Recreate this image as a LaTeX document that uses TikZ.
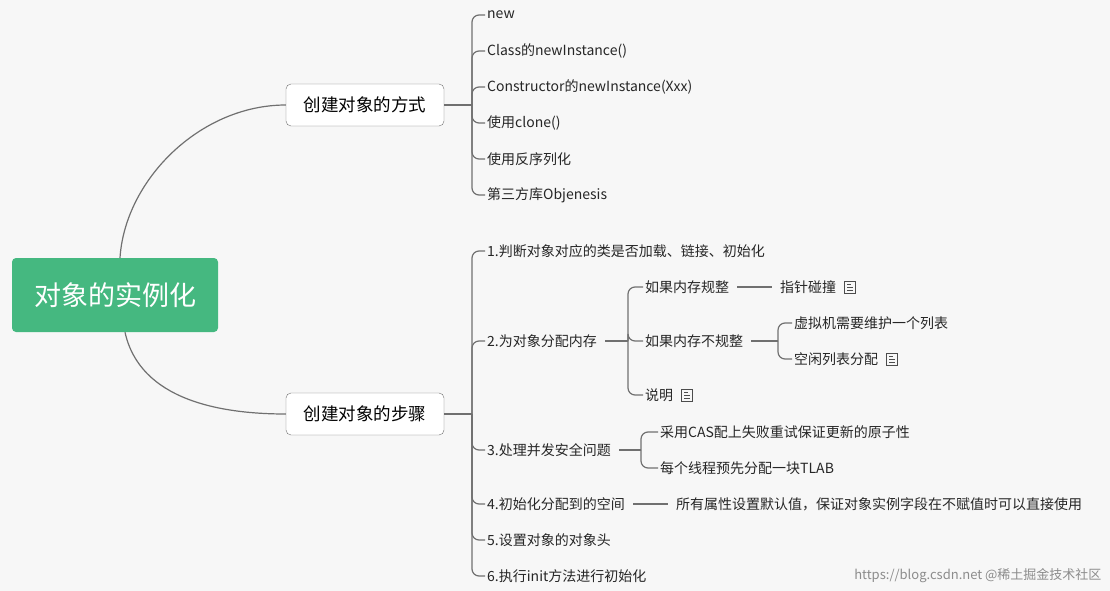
\documentclass[tikz,border=0pt]{standalone}
\usepackage{fontspec}
\setmainfont{Noto Sans CJK SC}
\usepackage{tikz}
\definecolor{rootgreen}{HTML}{45B880}
\definecolor{linegray}{HTML}{707070}
\tikzset{
  root/.style={shape=rectangle,rounded corners=4pt,fill=rootgreen,text=white,minimum width=206pt,minimum height=74pt,font=\fontsize{27}{32}\selectfont},
  topic/.style={shape=rectangle,rounded corners=5pt,draw=linegray,fill=white,minimum width=158pt,minimum height=42pt,font=\fontsize{17.5}{20}\selectfont},
  leaf/.style={anchor=west,inner sep=2pt,text=black!85,font=\fontsize{14}{16}\selectfont},
  note/.style={shape=rectangle,draw=black!70,minimum width=11pt,minimum height=12pt,inner sep=0pt,anchor=west,
    path picture={\draw[black!70,line width=.6pt] ([xshift=2.5pt,yshift=3pt]path picture bounding box.west) -- +(4pt,0)
      ([xshift=2.5pt]path picture bounding box.west) -- +(6pt,0)
      ([xshift=2.5pt,yshift=-3pt]path picture bounding box.west) -- +(6pt,0);}},
  conn/.style={draw=linegray,line width=1.2pt,rounded corners=7pt}
}
\begin{document}
\begin{tikzpicture}[x=1pt,y=-1pt]
  \useasboundingbox[fill=white!97!black] (0,0) rectangle (1110,591);
  \fill[white!97!black] (0,0) rectangle (1110,591);

  \node[root] (r) at (115, 295) {对象的实例化};
  \node[topic] (t1) at (365, 105) {创建对象的方式};
  \node[topic] (t2) at (365, 414) {创建对象的步骤};

  \draw[linegray,line width=1.2pt] (r.north) ++(5,0) coordinate (r1) .. controls (125,180) and (200,105) .. (t1.west);
  \draw[linegray,line width=1.2pt] (r.south) ++(10,0) coordinate (r2) .. controls (140,400) and (220,414) .. (t2.west);

  % ways
  \node[leaf] (w1) at (485, 15)  {new};
  \node[leaf] (w2) at (485, 51)  {Class的newInstance()};
  \node[leaf] (w3) at (485, 87)  {Constructor的newInstance(Xxx)};
  \node[leaf] (w4) at (485, 123) {使用clone()};
  \node[leaf] (w5) at (485, 159) {使用反序列化};
  \node[leaf] (w6) at (485, 195) {第三方库Objenesis};
  \draw[linegray,line width=1.2pt] (t1.east) -- (472,105);
  \foreach \c in {w1,w2,w3,w4,w5,w6}
    \draw[conn] (472,105) |- (\c.west);

  % steps
  \node[leaf] (s1) at (485, 251) {1.判断对象对应的类是否加载、链接、初始化};
  \node[leaf] (s2) at (485, 341) {2.为对象分配内存};
  \node[leaf] (s3) at (485, 450) {3.处理并发安全问题};
  \node[leaf] (s4) at (485, 504) {4.初始化分配到的空间};
  \node[leaf] (s5) at (485, 540) {5.设置对象的对象头};
  \node[leaf] (s6) at (485, 576) {6.执行init方法进行初始化};
  \draw[linegray,line width=1.2pt] (t2.east) -- (472,414);
  \foreach \c in {s1,s2,s3,s4,s5,s6}
    \draw[conn] (472,414) |- (\c.west);

  % memory
  \node[leaf] (m1) at (643, 287) {如果内存规整};
  \node[leaf] (m2) at (643, 341) {如果内存不规整};
  \node[leaf] (m3) at (643, 395) {说明};
  \node[note] (m3n) at ([xshift=6pt]m3.east) {};
  \draw[linegray,line width=1.2pt] (s2.east) ++(6,0) -- (628,341);
  \foreach \c in {m1,m2,m3}
    \draw[conn] (628,341) |- (\c.west);

  \node[leaf] (p1) at (778, 287) {指针碰撞};
  \node[note] (p1n) at ([xshift=6pt]p1.east) {};
  \path[draw=linegray,line width=1.2pt] ([xshift=6pt]m1.east) -- ([xshift=-6pt]p1.west);

  \node[leaf] (f1) at (792, 323) {虚拟机需要维护一个列表};
  \node[leaf] (f2) at (792, 359) {空闲列表分配};
  \node[note] (f2n) at ([xshift=6pt]f2.east) {};
  \draw[linegray,line width=1.2pt] (m2.east) ++(6,0) -- (778,341);
  \foreach \c in {f1,f2}
    \draw[conn] (778,341) |- (\c.west);

  % concurrency
  \node[leaf] (c1) at (658, 432) {采用CAS配上失败重试保证更新的原子性};
  \node[leaf] (c2) at (658, 468) {每个线程预先分配一块TLAB};
  \draw[linegray,line width=1.2pt] (s3.east) ++(6,0) -- (641,450);
  \foreach \c in {c1,c2}
    \draw[conn] (641,450) |- (\c.west);

  \node[leaf] (d1) at (674, 504) {所有属性设置默认值，保证对象实例字段在不赋值时可以直接使用};
  \path[draw=linegray,line width=1.2pt] ([xshift=6pt]s4.east) -- ([xshift=-6pt]d1.west);

  \node[anchor=east,text=black!45,font=\fontsize{13}{15}\selectfont] (wm) at (1105, 576) {https://blog.csdn.net @稀土掘金技术社区};
\end{tikzpicture}
\end{document}
